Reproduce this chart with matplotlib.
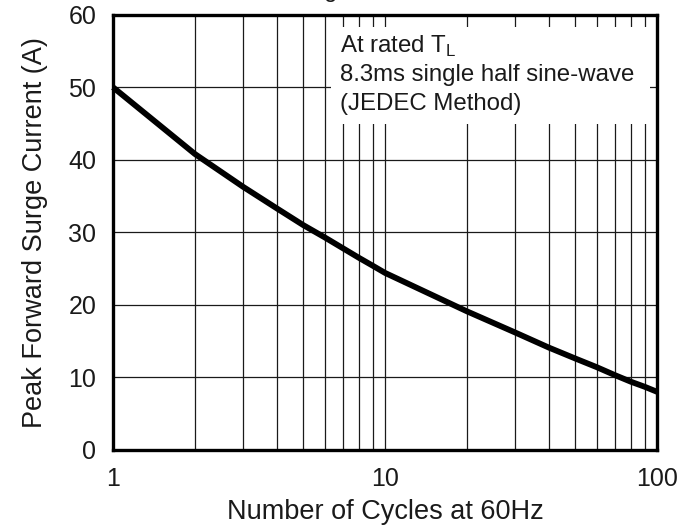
import matplotlib
matplotlib.use("Agg")
import matplotlib.pyplot as plt
from matplotlib.patches import Rectangle

plt.rcParams["font.family"] = ["Liberation Sans", "DejaVu Sans"]
plt.rcParams["mathtext.fontset"] = "custom"
plt.rcParams["mathtext.rm"] = "Liberation Sans"

# values
cycles = [1, 2, 3, 4, 5, 6, 7, 8, 9, 10, 20, 30, 40, 50, 60, 70, 80, 90, 100]
surge_current = [50, 40.8, 36.3, 33.3, 31.0, 29.3, 27.8, 26.5, 25.4, 24.4,
                 19.1, 16.2, 14.1, 12.6, 11.4, 10.3, 9.4, 8.7, 8.0]
x_ticks = [1, 10, 100]
x_tick_labels = ["1", "10", "100"]
y_ticks = [0, 10, 20, 30, 40, 50, 60]
note_lines = [r"At rated T$_\mathrm{L}$", "8.3ms single half sine-wave", "(JEDEC Method)"]

fig = plt.figure(figsize=(6.81, 5.28), dpi=100)
ax = fig.add_axes([0.166, 0.148, 0.799, 0.824])

ax.set_xscale("log")
ax.set_xlim(1, 100)
ax.set_ylim(0, 60)
ax.set_xticks(x_ticks)
ax.set_xticklabels(x_tick_labels)
ax.set_yticks(y_ticks)
ax.tick_params(axis="both", which="both", length=0, labelsize=18, colors="#1a1a1a")
ax.tick_params(axis="y", pad=12)
ax.tick_params(axis="x", pad=12)
ax.xaxis.set_minor_formatter(matplotlib.ticker.NullFormatter())

ax.set_axisbelow(True)
ax.grid(True, which="both", axis="x", color="#1a1a1a", linewidth=0.9)
ax.grid(True, which="major", axis="y", color="#1a1a1a", linewidth=0.9)
for sp in ax.spines.values():
    sp.set_linewidth(2.4)
    sp.set_color("black")

# white panel behind the note
ax.add_patch(Rectangle((0.40, 0.749), 0.587, 0.223, transform=ax.transAxes,
                       facecolor="white", edgecolor="none", zorder=1))

ax.plot(cycles, surge_current, color="black", linewidth=4.2, zorder=3,
        solid_capstyle="butt", solid_joinstyle="round", clip_on=False)

for i, line in enumerate(note_lines):
    ax.text(0.417, 0.913 - i * 0.0655, line, transform=ax.transAxes,
            fontsize=17.3, color="#1a1a1a", ha="left", va="baseline", zorder=4)

ax.set_xlabel("Number of Cycles at 60Hz", fontsize=19.5, color="#1a1a1a", labelpad=6)
ax.set_ylabel("Peak Forward Surge Current (A)", fontsize=19.5, color="#1a1a1a", labelpad=15)

# title cut off at the top edge in the reference, only a descender shows
fig.text(0.383, 1.005, "Maximum Forward Surge Current", fontsize=17, ha="center",
         va="baseline", color="#1a1a1a")

fig.savefig("out.png", dpi=100)
